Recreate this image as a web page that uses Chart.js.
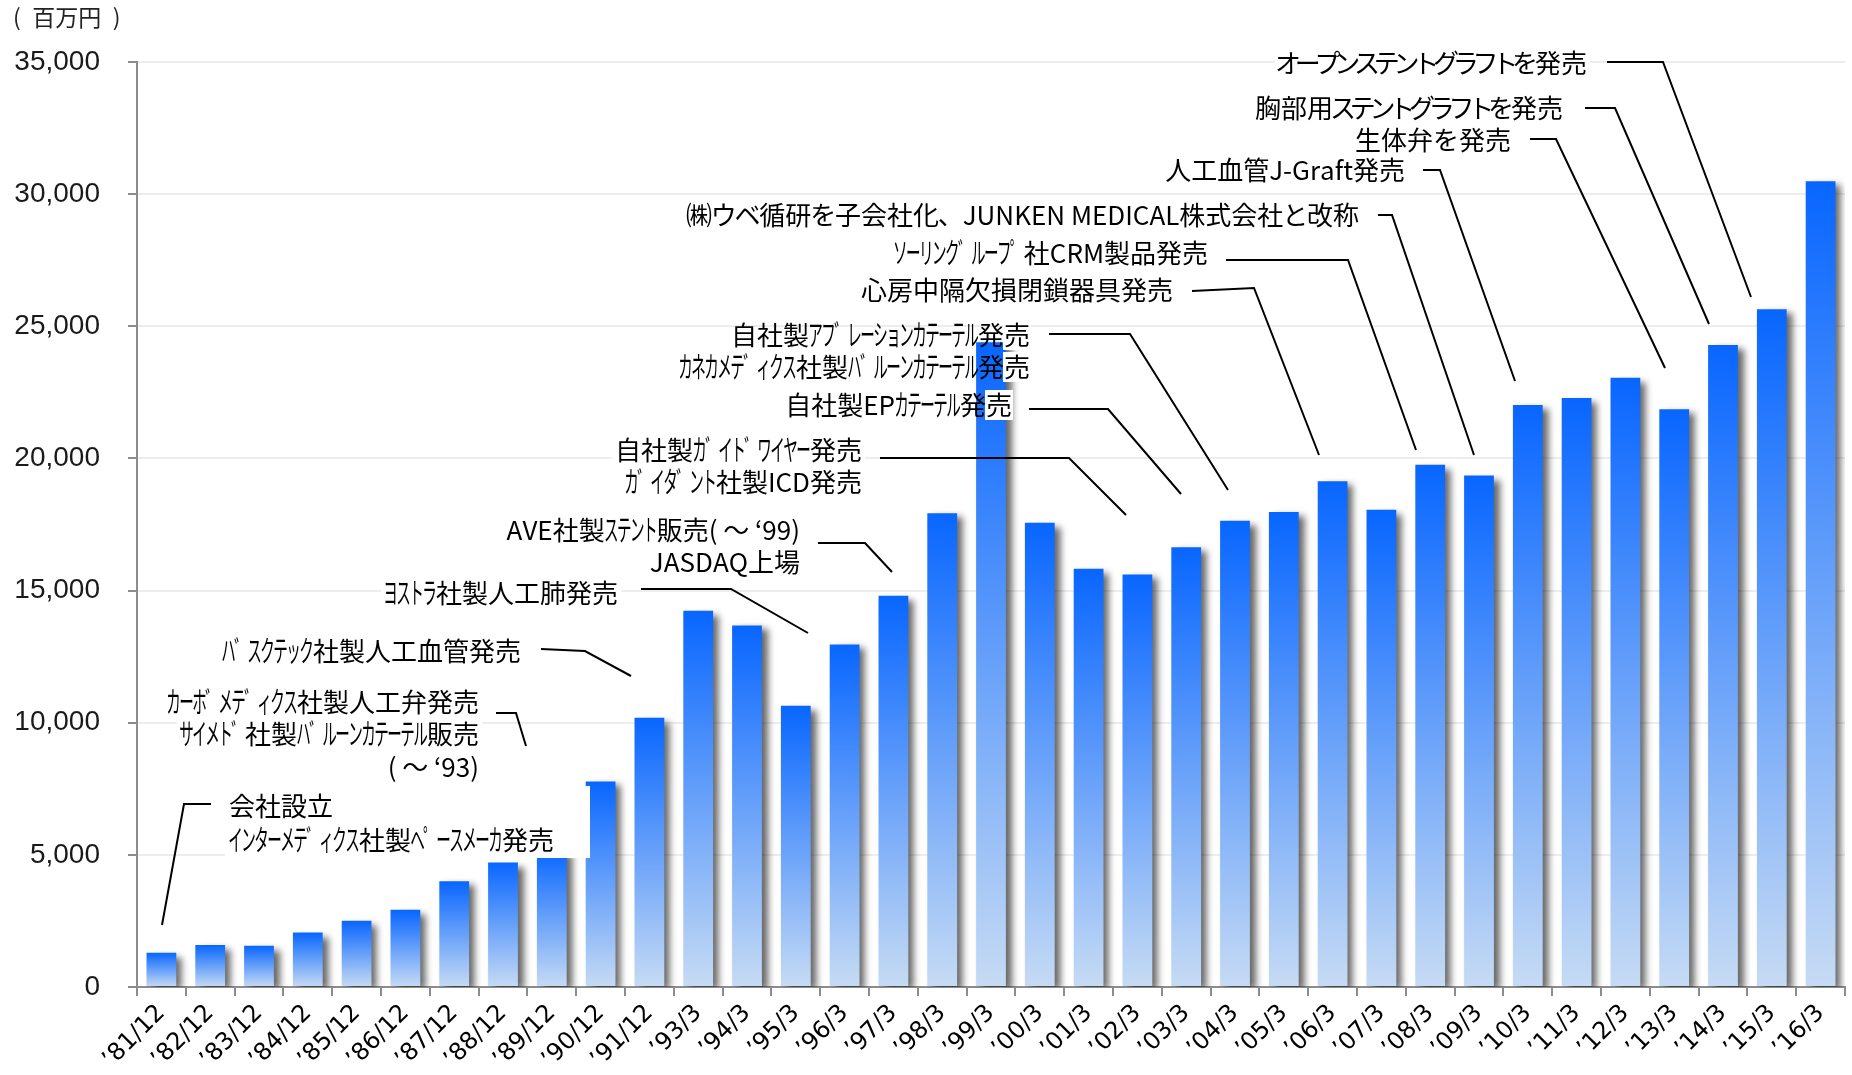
<!DOCTYPE html>
<html lang="ja">
<head>
<meta charset="utf-8">
<title>売上高の推移</title>
<script src="https://cdn.jsdelivr.net/npm/chart.js@4.4.1/dist/chart.umd.min.js"></script>
<style>
  html, body { margin: 0; padding: 0; background: #fff; }
  #wrap { position: relative; width: 1852px; height: 1075px; }
</style>
</head>
<body>
<div id="wrap"><canvas id="chart" width="1852" height="1075"></canvas></div>
<script>
// 決算期
const periods = [
  "’81/12", "’82/12", "’83/12", "’84/12", "’85/12", "’86/12", "’87/12", "’88/12", "’89/12", "’90/12", "’91/12",
  "’93/3", "’94/3", "’95/3", "’96/3", "’97/3", "’98/3", "’99/3", "’00/3", "’01/3", "’02/3", "’03/3",
  "’04/3", "’05/3", "’06/3", "’07/3", "’08/3", "’09/3", "’10/3", "’11/3", "’12/3", "’13/3", "’14/3", "’15/3", "’16/3"
];
// 売上高（百万円）
const sales = [
  1300, 1590, 1560, 2060, 2510, 2920, 4000, 4710, 5200, 7780, 10190,
  14240, 13680, 10640, 12960, 14800, 17930, 24400, 17570, 15830, 15610, 16640,
  17640, 17970, 19140, 18060, 19760, 19350, 22020, 22290, 23050, 21860, 24290, 25640, 30490
];
const yTickValues = [0, 5000, 10000, 15000, 20000, 25000, 30000, 35000];
const unitLabel = "(\u2002百万円\u2002)";

// 注記（テキストと引き出し線の配置はピクセル）
const notes = [
  { lines: ["会社設立", "ｲﾝﾀｰﾒﾃﾞｨｸｽ社製ﾍﾟｰｽﾒｰｶ発売"], align: "left", x: 229, y: [806, 840],
    box: [225, 786, 590, 858], leader: [[211, 804], [184, 804], [162, 925]] },
  { lines: ["ｶｰﾎﾞﾒﾃﾞｨｸｽ社製人工弁発売", "ｻｲﾒﾄﾞ社製ﾊﾞﾙｰﾝｶﾃｰﾃﾙ販売", "( ～ ‘93)"], x: 479, y: [702, 734, 767],
    leader: [[496, 713], [516, 713], [526, 746]] },
  { lines: ["ﾊﾞｽｸﾃｯｸ社製人工血管発売"], x: 521, y: [651], leader: [[541, 649], [585, 651], [631, 676]] },
  { lines: ["ﾖｽﾄﾗ社製人工肺発売"], x: 618, y: [593], leader: [[641, 589], [731, 589], [808, 633]] },
  { lines: ["AVE社製ｽﾃﾝﾄ販売( ～ ‘99)", "JASDAQ上場"], x: 800, y: [530, 562],
    leader: [[818, 543], [865, 543], [892, 572]] },
  { lines: ["自社製ｶﾞｲﾄﾞﾜｲﾔｰ発売", "ｶﾞｲﾀﾞﾝﾄ社製ICD発売"], x: 862, y: [450, 482],
    leader: [[880, 458], [1069, 458], [1126, 515]] },
  { lines: ["自社製EPｶﾃｰﾃﾙ発売"], x: 1012, y: [405], bg: "last",
    leader: [[1029, 409], [1108, 409], [1181, 494]] },
  { lines: ["自社製ｱﾌﾞﾚｰｼｮﾝｶﾃｰﾃﾙ発売", "ｶﾈｶﾒﾃﾞｨｸｽ社製ﾊﾞﾙｰﾝｶﾃｰﾃﾙ発売"], x: 1030, y: [335, 367], bg: "last",
    leader: [[1049, 334], [1130, 334], [1228, 490]] },
  { lines: ["心房中隔欠損閉鎖器具発売"], x: 1173, y: [290], leader: [[1192, 291], [1254, 288], [1319, 455]] },
  { lines: ["ｿｰﾘﾝｸﾞﾙｰﾌﾟ社CRM製品発売"], x: 1208, y: [253], leader: [[1226, 260], [1348, 260], [1416, 450]] },
  { lines: ["㈱ウベ循研を子会社化、JUNKEN MEDICAL株式会社と改称"], x: 1359, y: [215], fit: 673,
    leader: [[1378, 215], [1392, 215], [1474, 455]] },
  { lines: ["人工血管J-Graft発売"], x: 1405, y: [170], leader: [[1423, 170], [1440, 170], [1515, 381]] },
  { lines: ["生体弁を発売"], x: 1511, y: [140], leader: [[1530, 139], [1556, 139], [1665, 368]] },
  { lines: ["胸部用ステントグラフトを発売"], x: 1563, y: [108], fit: 308,
    leader: [[1585, 108], [1615, 108], [1709, 324]] },
  { lines: ["オープンステントグラフトを発売"], x: 1587, y: [63], fit: 309,
    leader: [[1607, 62], [1663, 62], [1751, 297]] }
];

const NOTE_FONT = '26px "Noto Sans CJK JP", sans-serif';
const BAR_TOP = '#0866FF';
const BAR_BOTTOM = '#C6DBF4';
const AXIS_GRAY = '#8C8C8C';

// バーの影
const shadowPlugin = {
  id: 'barShadow',
  beforeDatasetsDraw(chart) {
    const c = chart.ctx;
    c.save();
    c.shadowColor = 'rgba(0,0,0,0.6)';
    c.shadowBlur = 7;
    c.shadowOffsetX = 6;
    c.shadowOffsetY = 4;
  },
  afterDatasetsDraw(chart) {
    chart.ctx.restore();
  }
};

// 半角カナは全角字形を縮めて描く（元資料の字形に近づける）
const HALF_MARKS = { 'ﾞ': '゛', 'ﾟ': '゜' };
const isHalfKana = ch => { const u = ch.codePointAt(0); return u >= 0xFF61 && u <= 0xFF9F; };
const isKana = ch => { const u = ch.codePointAt(0); return (u >= 0x3041 && u <= 0x30FF) || ch === '、'; };

function layoutLine(c, n, t) {
  const items = Array.from(t).map(ch => {
    if (isHalfKana(ch)) {
      const g = HALF_MARKS[ch] || ch.normalize('NFKC');
      return { g, half: true, nat: c.measureText(g).width * 0.5, squeeze: false };
    }
    return { g: ch, half: false, nat: c.measureText(ch).width, squeeze: !!n.fit && isKana(ch) };
  });
  const total = items.reduce((s, it) => s + it.nat, 0);
  let k = 1;
  if (n.fit) {
    const sq = items.reduce((s, it) => s + (it.squeeze ? it.nat : 0), 0);
    if (sq > 0) k = (n.fit - (total - sq)) / sq;
  }
  items.forEach(it => { it.adv = it.squeeze ? it.nat * k : it.nat; });
  const w = items.reduce((s, it) => s + it.adv, 0);
  const x0 = n.align === 'left' ? n.x : n.x - w;
  return { items, w, x0 };
}

function drawLine(c, lay, y) {
  let x = lay.x0;
  lay.items.forEach(it => {
    if (it.half) {
      c.save();
      c.translate(x - 0.7, y);
      c.scale(0.56, 1.12);
      c.fillText(it.g, 0, 0);
      c.restore();
    } else {
      c.fillText(it.g, x + (it.adv - it.nat) / 2, y);
    }
    x += it.adv;
  });
}

// 注記と単位
const notesPlugin = {
  id: 'notes',
  afterDraw(chart) {
    const c = chart.ctx;
    c.save();
    c.font = '23px "Noto Sans CJK JP", sans-serif';
    c.fillStyle = '#222';
    c.textBaseline = 'middle';
    c.textAlign = 'left';
    c.fillText(unitLabel, 13, 17);

    c.font = NOTE_FONT;
    // 白い背景
    c.fillStyle = '#fff';
    notes.forEach(n => {
      if (n.box) {
        c.fillRect(n.box[0], n.box[1], n.box[2] - n.box[0], n.box[3] - n.box[1]);
        return;
      }
      n.lines.forEach((t, i) => {
        const lay = layoutLine(c, n, t);
        const y = n.y[i];
        if (n.bg === 'last') {
          const lw = lay.items[lay.items.length - 1].adv;
          c.fillRect(lay.x0 + lay.w - lw - 1, y - 15, lw + 2, 30);
        } else {
          c.fillRect(lay.x0 - 3, y - 16, lay.w + 6, 32);
        }
      });
    });
    // テキスト
    c.fillStyle = '#000';
    notes.forEach(n => {
      n.lines.forEach((t, i) => drawLine(c, layoutLine(c, n, t), n.y[i]));
    });
    // 引き出し線
    c.strokeStyle = '#000';
    c.lineWidth = 2;
    notes.forEach(n => {
      c.beginPath();
      n.leader.forEach((p, i) => (i ? c.lineTo(p[0], p[1]) : c.moveTo(p[0], p[1])));
      c.stroke();
    });
    c.restore();
  }
};

function barGradient(context) {
  const chart = context.chart;
  const { chartArea, scales } = chart;
  if (!chartArea || context.raw == null) return BAR_TOP;
  const top = scales.y.getPixelForValue(context.raw);
  const bottom = scales.y.getPixelForValue(0);
  const g = chart.ctx.createLinearGradient(0, top, 0, bottom);
  g.addColorStop(0, BAR_TOP);
  g.addColorStop(1, BAR_BOTTOM);
  return g;
}

new Chart(document.getElementById('chart'), {
  type: 'bar',
  data: {
    labels: periods,
    datasets: [{
      label: '売上高',
      data: sales,
      backgroundColor: barGradient,
      borderWidth: 0,
      categoryPercentage: 1.0,
      barPercentage: 0.61
    }]
  },
  options: {
    responsive: false,
    devicePixelRatio: 1,
    animation: false,
    layout: { padding: { top: 62, right: 7, bottom: 0, left: 0 } },
    plugins: { legend: { display: false }, tooltip: { enabled: false } },
    scales: {
      x: {
        offset: true,
        grid: { display: true, drawOnChartArea: false, offset: true, drawTicks: true,
                tickLength: 9, tickColor: AXIS_GRAY, tickWidth: 2, lineWidth: 2, color: AXIS_GRAY },
        border: { display: true, color: AXIS_GRAY, width: 2 },
        ticks: {
          autoSkip: false, maxRotation: 45, minRotation: 45, padding: 3,
          color: '#000', font: { family: '"DejaVu Sans", sans-serif', size: 24 }
        },
        afterFit(scale) { scale.height = 88; }
      },
      y: {
        min: 0, max: 35000,
        afterBuildTicks(scale) { scale.ticks = yTickValues.map(v => ({ value: v })); },
        grid: { color: '#EDEDED', lineWidth: 2, drawTicks: true, tickLength: 9,
                tickColor: AXIS_GRAY, tickWidth: 2 },
        border: { display: true, color: AXIS_GRAY, width: 2 },
        ticks: {
          padding: 28, color: '#1a1a1a',
          font: { family: '"Liberation Sans", Arial, sans-serif', size: 28 },
          callback: v => v.toLocaleString('en-US')
        },
        afterFit(scale) { scale.width = 137; }
      }
    }
  },
  plugins: [shadowPlugin, notesPlugin]
});
</script>
</body>
</html>
